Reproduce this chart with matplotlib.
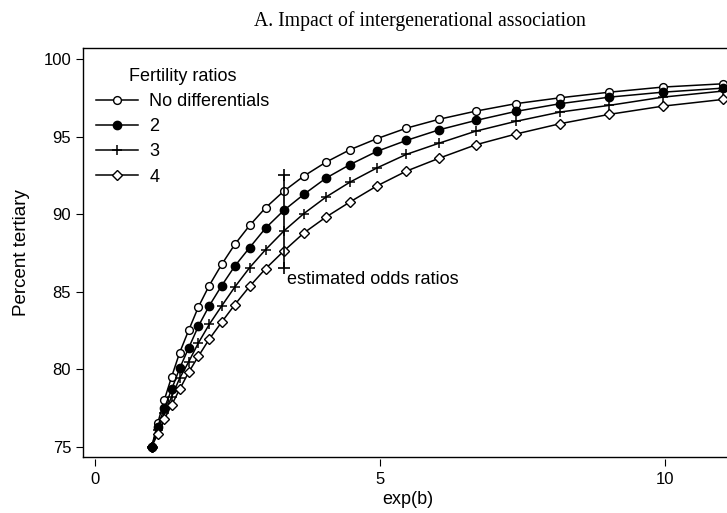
import matplotlib
matplotlib.use("Agg")
from matplotlib import pyplot as plt

# odds ratio grid (x)
exp_b = [1.0, 1.105, 1.221, 1.35, 1.49, 1.65, 1.82, 2.01, 2.23, 2.46, 2.72, 3.0, 3.32,
         3.67, 4.06, 4.48, 4.95, 5.47, 6.05, 6.69, 7.39, 8.17, 9.03, 9.97, 11.02]

# percent tertiary for each fertility ratio
no_diff = [75.0, 76.51, 78.01, 79.51, 81.06, 82.52, 84.02, 85.40, 86.77, 88.06, 89.28, 90.42, 91.49,
           92.46, 93.36, 94.16, 94.87, 95.55, 96.13, 96.65, 97.13, 97.51, 97.87, 98.2, 98.41]
ratio_2 = [75.0, 76.29, 77.47, 78.70, 80.05, 81.38, 82.78, 84.09, 85.40, 86.66, 87.85, 89.11, 90.25,
           91.28, 92.33, 93.2, 94.05, 94.76, 95.45, 96.05, 96.63, 97.13, 97.55, 97.87, 98.13]
ratio_3 = [75.0, 76.08, 77.15, 78.22, 79.41, 80.48, 81.70, 82.89, 84.09, 85.31, 86.56, 87.72, 88.92,
           90.04, 91.11, 92.07, 92.98, 93.86, 94.59, 95.36, 95.99, 96.59, 97.02, 97.55, 97.94]
ratio_4 = [75.0, 75.82, 76.77, 77.69, 78.70, 79.81, 80.84, 81.94, 83.05, 84.17, 85.35, 86.49, 87.63,
           88.79, 89.82, 90.79, 91.82, 92.78, 93.62, 94.48, 95.17, 95.84, 96.44, 96.97, 97.40]

labels = ['No differentials', '2', '3', '4']

# estimated odds ratio marker
est_x = 3.32
est_range = [86.5, 92.5]

plt.rcParams['font.family'] = ['Liberation Sans', 'DejaVu Sans']

W, H = 727, 513
fig = plt.figure(figsize=(W / 100, H / 100), dpi=100)
# plot region runs past the right edge of the picture
left, right, top, bottom = 82.7, 733.0, 48.3, 456.7
ax = fig.add_axes([left / W, 1 - bottom / H, (right - left) / W, (bottom - top) / H])

ax.plot(exp_b, no_diff, color='k', lw=1.1, marker='o', ms=5.6, mfc='white', mec='k', mew=1.0, label=labels[0])
ax.plot(exp_b, ratio_2, color='k', lw=1.1, marker='o', ms=6.0, mfc='k', mec='k', mew=1.0, label=labels[1])
ax.plot(exp_b, ratio_3, color='k', lw=1.1, marker='+', ms=6.8, mec='k', mew=1.1, label=labels[2])
ax.plot(exp_b, ratio_4, color='k', lw=1.1, marker='D', ms=4.8, mfc='white', mec='k', mew=1.0, label=labels[3])
# the overlapping markers at the start point read as one solid diamond
ax.plot(exp_b[:1], ratio_4[:1], ls='none', marker='D', ms=5.2, mfc='k', mec='k')

ax.plot([est_x, est_x], est_range, color='k', lw=1.2, marker='+', ms=8, mew=1.2)
ax.text(est_x + 0.05, est_range[0] - 0.15, 'estimated odds ratios', fontsize=13, va='top', ha='left')

ax.set_xlim(-0.21, 11.2)
ax.set_ylim(74.36, 100.7)
ax.set_xticks([0, 5, 10])
ax.set_yticks([75, 80, 85, 90, 95, 100])
ax.tick_params(axis='both', labelsize=12, length=4.7, width=0.8, direction='out')
ax.tick_params(axis='y', pad=3.6)
ax.tick_params(axis='x', pad=4)

for s in ['top', 'left']:
    ax.spines[s].set_linewidth(1.0)
ax.spines['right'].set_visible(False)
ax.spines['bottom'].set_position(('outward', 2))
ax.spines['bottom'].set_visible(False)
ax.plot([0, 1], [0, 0], transform=ax.transAxes, color='k', lw=1.0, clip_on=False)

ax.set_xlabel('exp(b)', fontsize=13, labelpad=3)
ax.set_ylabel('Percent tertiary', fontsize=13.5, labelpad=10)

leg = ax.legend(title='Fertility ratios', loc='upper left', bbox_to_anchor=(96 / W, 1 - 68 / H),
                bbox_transform=fig.transFigure, frameon=False, fontsize=13, title_fontsize=13,
                handlelength=2.35, handletextpad=0.6, labelspacing=0.45, borderpad=0, borderaxespad=0)

fig.text(420 / W, 1 - 21 / H, 'A. Impact of intergenerational association', fontsize=14.2,
         family='Liberation Serif', ha='center', va='center')

fig.savefig('out.png', dpi=100)
